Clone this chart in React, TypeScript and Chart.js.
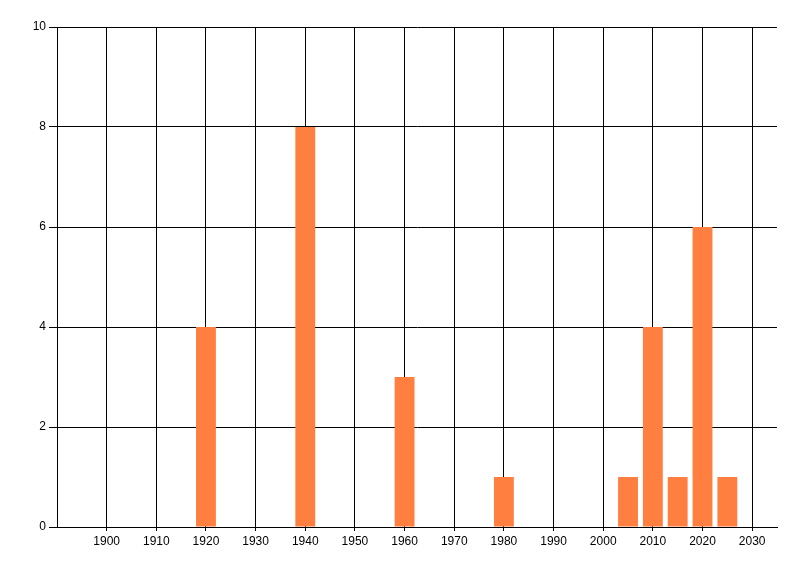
import React, { useEffect, useRef } from "react";
import { Chart, registerables } from "chart.js";

Chart.register(...registerables);

const years = [1920, 1940, 1960, 1980, 2005, 2010, 2015, 2020, 2025];
const counts = [4, 8, 3, 1, 1, 4, 1, 6, 1];
const xTickValues = [1900, 1910, 1920, 1930, 1940, 1950, 1960, 1970, 1980, 1990, 2000, 2010, 2020, 2030];
const yTickValues = [0, 2, 4, 6, 8, 10];

export default function App() {
  const ref = useRef<HTMLCanvasElement | null>(null);

  useEffect(() => {
    document.body.style.margin = "0";
    const canvas = ref.current;
    if (!canvas) return;
    const font = { family: "'Liberation Sans Narrow', 'Liberation Sans', Arial, sans-serif", size: 12 };
    const chart = new Chart(canvas, {
      type: "bar",
      data: {
        datasets: [
          {
            data: years.map((y, i) => ({ x: y, y: counts[i] })),
            backgroundColor: "#FF7F41",
            borderWidth: 0,
            barPercentage: 0.8,
            categoryPercentage: 1,
          },
        ],
      },
      options: {
        responsive: false,
        animation: false,
        layout: { padding: { left: 0, top: 27, right: 23, bottom: 0 } },
        plugins: { legend: { display: false }, tooltip: { enabled: false } },
        scales: {
          x: {
            type: "linear",
            offset: false,
            min: 1890,
            max: 2035,
            afterBuildTicks: (axis: any) => {
              axis.ticks = xTickValues.map((v) => ({ value: v }));
            },
            afterFit: (axis: any) => {
              axis.height = 49;
            },
            ticks: { color: "#000", font, padding: 3, maxRotation: 0, autoSkip: false, callback: (v: any) => String(v) },
            grid: { color: "#000", lineWidth: 1, tickLength: 4, drawTicks: true, offset: false },
            border: { display: true, color: "#000", width: 1 },
          },
          y: {
            type: "linear",
            min: 0,
            max: 10,
            afterBuildTicks: (axis: any) => {
              axis.ticks = yTickValues.map((v) => ({ value: v }));
            },
            afterFit: (axis: any) => {
              axis.width = 57;
            },
            ticks: { color: "#000", font, padding: 3 },
            grid: { color: "#000", lineWidth: 1, tickLength: 8, drawTicks: true },
            border: { display: true, color: "#000", width: 1 },
          },
        },
      },
    });
    return () => chart.destroy();
  }, []);

  return <canvas ref={ref} width={800} height={576} style={{ display: "block", width: 800, height: 576 }} />;
}
